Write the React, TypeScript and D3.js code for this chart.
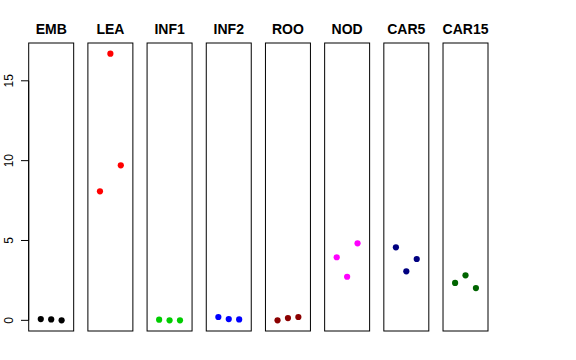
import React from "react";
import * as d3 from "d3";

const categories = ["EMB", "LEA", "INF1", "INF2", "ROO", "NOD", "CAR5", "CAR15"];
const colors = ["#000000", "#FF0000", "#00CD00", "#0000FF", "#8B0000", "#FF00FF", "#000080", "#006400"];
const rep1 = [0.08, 8.08, 0.04, 0.21, 0.0, 3.95, 4.57, 2.34];
const rep2 = [0.06, 16.70, 0.0, 0.08, 0.14, 2.73, 3.07, 2.82];
const rep3 = [0.0, 9.71, 0.0, 0.06, 0.21, 4.82, 3.84, 2.02];
const yTicks = [0, 5, 10, 15];

const W = 576;
const H = 360;
const top = 43;
const bottom = 331;

export default function App() {
  const all = [...rep1, ...rep2, ...rep3];
  const [mn, mx] = d3.extent(all) as [number, number];
  const pad = (mx - mn) * 0.04;
  const y = d3.scaleLinear().domain([mn - pad, mx + pad]).range([bottom, top]);
  const band = d3.scaleBand<string>().domain(categories).range([28.7, 488]).paddingInner(0.24).paddingOuter(0);
  const font = "'Liberation Sans', Arial, Helvetica, sans-serif";

  return (
    <svg width={W} height={H} style={{ position: "absolute", left: 0, top: 0, background: "#fff" }} fontFamily={font}>
      <rect x={0} y={0} width={W} height={H} fill="#fff" />
      {/* y axis */}
      {yTicks.map((t) => (
        <g key={t}>
          <line x1={21} x2={band("EMB")!} y1={y(t)} y2={y(t)} stroke="#000" strokeWidth={1} />
          <text
            transform={`translate(12.7,${y(t)}) rotate(-90)`}
            textAnchor="middle"
            fontSize={12}
            fill="#000"
          >
            {t}
          </text>
        </g>
      ))}
      <line x1={band("EMB")!} x2={band("EMB")!} y1={y(yTicks[0])} y2={y(yTicks[yTicks.length - 1])} stroke="#000" />
      {categories.map((c, i) => {
        const x0 = band(c)!;
        const bw = band.bandwidth();
        const x = d3.scaleLinear().domain([-0.16, 4.16]).range([x0, x0 + bw]);
        const vals = [rep1[i], rep2[i], rep3[i]];
        return (
          <g key={c}>
            <text x={x0 + bw / 2} y={34} textAnchor="middle" fontWeight="bold" fontSize={14}>
              {c}
            </text>
            <rect x={x0} y={top} width={bw} height={bottom - top} fill="none" stroke="#000" strokeWidth={1} />
            {vals.map((v, j) => (
              <circle key={j} cx={x(j + 1)} cy={y(v)} r={3.1} fill={colors[i]} />
            ))}
          </g>
        );
      })}
    </svg>
  );
}
